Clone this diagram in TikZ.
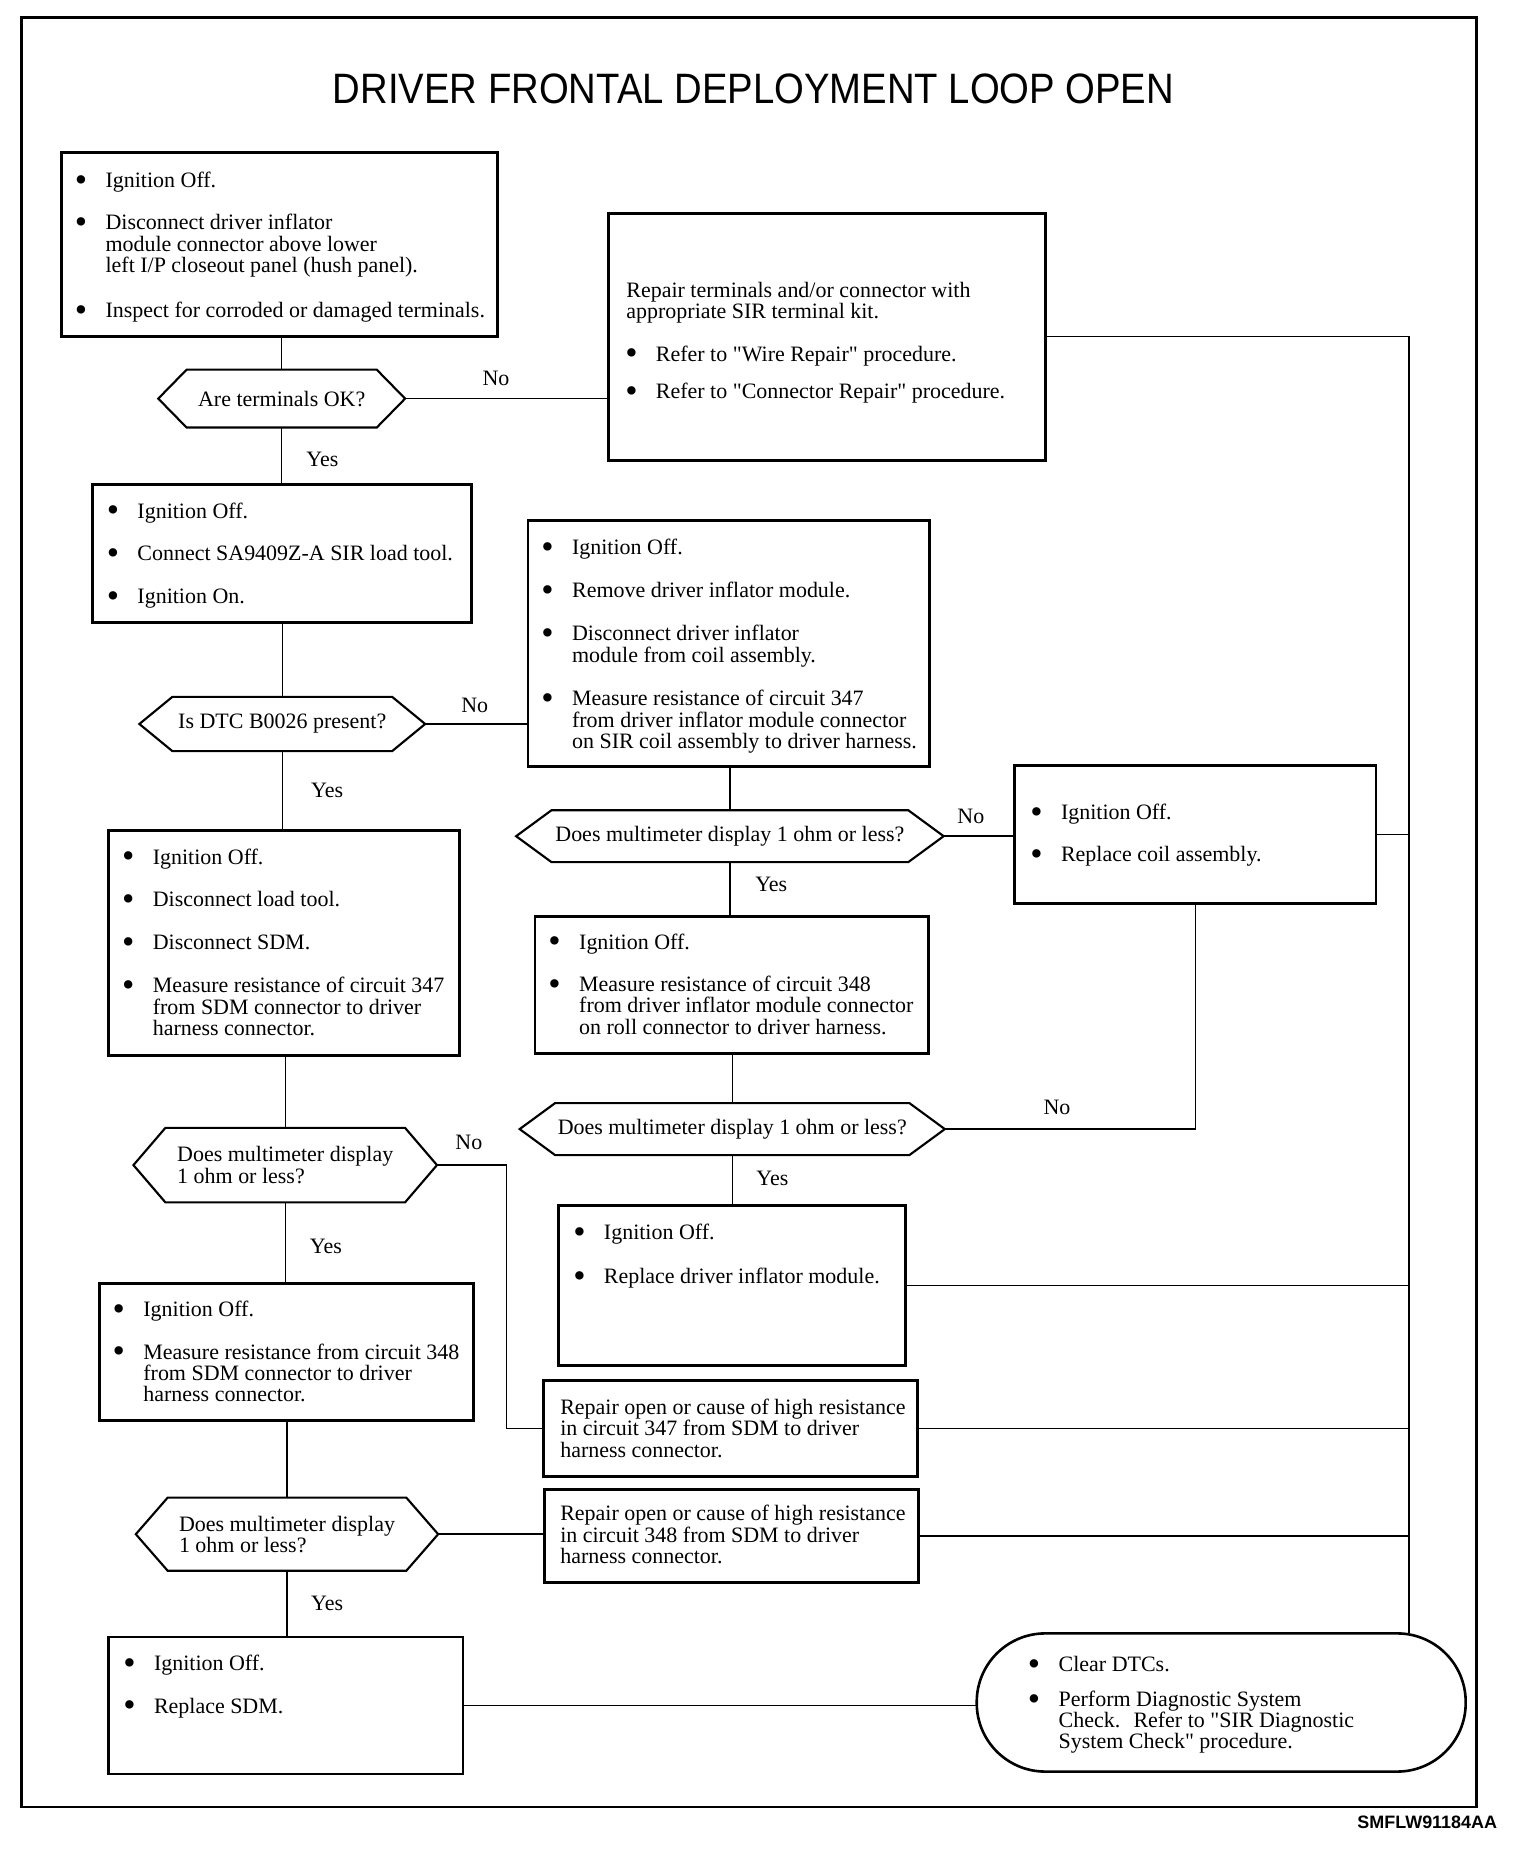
\documentclass[tikz,border=0pt]{standalone}
\usepackage{fontspec}
\setmainfont{Liberation Serif}
\newfontfamily\titlefont{Liberation Sans}
\usetikzlibrary{calc}
\newcommand\fs{\fontsize{9.3}{9}\selectfont}
\newcommand\st{\rule{0pt}{6.3pt}}
\newcommand\bl{\st\makebox[12pt][l]{\hspace*{-1pt}\raisebox{-1.6pt}{\scalebox{1.6}{\textbullet}}}}
\newcommand\ind{\hspace*{12pt}}
\newcommand\q{\textquotedbl}
\tikzset{
  box/.style={draw, line width=1.2pt, anchor=north west, inner sep=0pt, outer sep=0pt},
  txt/.style={font=\fs, align=left, inner sep=0pt, anchor=north west, yshift=-0.6pt},
  lbl/.style={font=\fs, inner sep=0pt},
  conn/.style={line width=0.6pt},
  hexline/.style={line width=0.9pt, line join=miter},
  hexnode/.style={inner sep=0pt, outer sep=0pt, font=\fs, align=left},
  frame/.style={line width=1.2pt},
  term/.style={draw, line width=1.1pt, rounded corners=29pt, anchor=north west, inner sep=0pt, outer sep=0pt}
}
\newcommand\bx[5]{%
  \pgfmathsetmacro\bw{(#4-#2)*0.5}\pgfmathsetmacro\bh{(#5-#3)*0.5}%
  \node[box, minimum width=\bw pt, minimum height=\bh pt] (#1) at (#2,#3) {};}
\newcommand\hx[7]{%
  \pgfmathsetmacro\bw{(#4-#2)*0.5}\pgfmathsetmacro\bh{(#5-#3)*0.5}%
  \node[hexnode, minimum width=\bw pt, minimum height=\bh pt] (#1) at ({(#2+#4)/2},{(#3+#5)/2}) {#7};
  \draw[hexline] (#1.west) -- ($(#1.north west)+(#6,0)$) -- ($(#1.north east)+(-#6,0)$) -- (#1.east)
    -- ($(#1.south east)+(-#6,0)$) -- ($(#1.south west)+(#6,0)$) -- cycle;}
\begin{document}
\begin{tikzpicture}[x=0.5pt,y=-0.5pt]
\useasboundingbox (0,0) rectangle (1287,1568.1);
% frame and title
\draw[frame] (18,15) rectangle (1250,1530);
\node[font=\titlefont\fontsize{18}{20}\selectfont] (title) at (638,75) {\scalebox{0.9}[1]{DRIVER FRONTAL DEPLOYMENT LOOP OPEN}};
\node[font=\titlefont\bfseries\fontsize{7.6}{9}\selectfont, anchor=east, inner sep=0pt] (code) at (1268,1543) {SMFLW91184AA};

% boxes
\bx{A}{52}{129}{421}{285}
\bx{B}{515}{181}{885}{390}
\bx{C}{78}{410}{399}{527}
\bx{D}{447}{441}{787}{649}
\bx{E}{859}{648}{1165}{765}
\bx{F}{92}{703}{389}{894}
\bx{G}{453}{776}{786}{892}
\bx{H}{473}{1021}{767}{1156}
\bx{J}{84}{1087}{401}{1203}
\bx{I}{460}{1169}{777}{1250}
\bx{K}{461}{1261}{778}{1340}
\bx{L}{92}{1386}{392}{1502}
\node[term, minimum width=207pt, minimum height=58.5pt] (T) at (827,1383) {};

% decisions
\hx{H1}{134}{313}{343}{362}{24}{Are terminals OK?}
\hx{H2}{118}{590}{360}{636}{28}{Is DTC B0026 present?}
\hx{H3}{437}{686}{799}{730}{30}{Does multimeter display 1 ohm or less?}
\hx{H4}{113}{955}{370}{1018}{27}{Does multimeter display\\1 ohm or less?}
\hx{H5}{440}{934}{800}{978}{30}{Does multimeter display 1 ohm or less?}
\hx{H6}{115}{1268}{371}{1330}{27}{Does multimeter display\\1 ohm or less?}

% texts
\node[txt] (a1) at (65,144) {\bl Ignition Off.};
\node[txt] (a2) at (65,180) {\bl Disconnect driver inflator\\\ind module connector above lower\\\ind left I/P closeout panel (hush panel).};
\node[txt] (a3) at (65,254) {\bl Inspect for corroded or damaged terminals.};

\node[txt] (b0) at (530,237) {\st Repair terminals and/or connector with\\appropriate SIR terminal kit.};
\node[txt] (b1) at (531,291) {\bl Refer to \q Wire Repair\q{} procedure.};
\node[txt] (b2) at (531,323) {\bl Refer to \q Connector Repair\q{} procedure.};

\node[txt] (c1) at (92,424) {\bl Ignition Off.};
\node[txt] (c2) at (92,460) {\bl Connect SA9409Z-A SIR load tool.};
\node[txt] (c3) at (92,497) {\bl Ignition On.};

\node[txt] (d1) at (460,455) {\bl Ignition Off.};
\node[txt] (d2) at (460,491) {\bl Remove driver inflator module.};
\node[txt] (d3) at (460,528) {\bl Disconnect driver inflator\\\ind module from coil assembly.};
\node[txt] (d4) at (460,583) {\bl Measure resistance of circuit 347\\\ind from driver inflator module connector\\\ind on SIR coil assembly to driver harness.};

\node[txt] (e1) at (874,679) {\bl Ignition Off.};
\node[txt] (e2) at (874,715) {\bl Replace coil assembly.};

\node[txt] (f1) at (105,717) {\bl Ignition Off.};
\node[txt] (f2) at (105,753) {\bl Disconnect load tool.};
\node[txt] (f3) at (105,790) {\bl Disconnect SDM.};
\node[txt] (f4) at (105,826) {\bl Measure resistance of circuit 347\\\ind from SDM connector to driver\\\ind harness connector.};

\node[txt] (g1) at (466,789) {\bl Ignition Off.};
\node[txt] (g2) at (466,825) {\bl Measure resistance of circuit 348\\\ind from driver inflator module connector\\\ind on roll connector to driver harness.};

\node[txt] (h1) at (487,1035) {\bl Ignition Off.};
\node[txt] (h2) at (487,1072) {\bl Replace driver inflator module.};

\node[txt] (j1) at (97,1100) {\bl Ignition Off.};
\node[txt] (j2) at (97,1136) {\bl Measure resistance from circuit 348\\\ind from SDM connector to driver\\\ind harness connector.};

\node[txt] (i1) at (474,1183) {\st Repair open or cause of high resistance\\in circuit 347 from SDM to driver\\harness connector.};
\node[txt] (k1) at (474,1273) {\st Repair open or cause of high resistance\\in circuit 348 from SDM to driver\\harness connector.};

\node[txt] (l1) at (106,1400) {\bl Ignition Off.};
\node[txt] (l2) at (106,1436) {\bl Replace SDM.};

\node[txt] (t1) at (872,1401) {\bl Clear DTCs.};
\node[txt] (t2) at (872,1430) {\bl Perform Diagnostic System\\\ind Check.\hspace{0.6em}Refer to \q SIR Diagnostic\\\ind System Check\q{} procedure.};

% labels
\node[lbl] (n1) at (420,320) {No};
\node[lbl] (y1) at (273,389) {Yes};
\node[lbl] (n2) at (402,597) {No};
\node[lbl] (y2) at (277,669) {Yes};
\node[lbl] (n3) at (822,691) {No};
\node[lbl] (y3) at (653,749) {Yes};
\node[lbl] (n5) at (895,938) {No};
\node[lbl] (y5) at (654,998) {Yes};
\node[lbl] (n4) at (397,967) {No};
\node[lbl] (y4) at (276,1055) {Yes};
\node[lbl] (y6) at (277,1358) {Yes};

% connectors
\coordinate (col) at (1193,285);
\coordinate (k4) at (429,986);
\draw[conn] (H1.north |- A.south) -- (H1.north);
\draw[conn] (H1.east) -- (B.west |- H1.east);
\draw[conn] (H1.south) -- (H1.south |- C.north);
\draw[conn] (B.east |- col) -- (col) -- (col |- T.north);
\draw[conn] (H2.north |- C.south) -- (H2.north);
\draw[conn] (H2.east) -- (D.west |- H2.east);
\draw[conn] (H2.south) -- (H2.south |- F.north);
\draw[conn] (H3.north |- D.south) -- (H3.north);
\draw[conn] (H3.east) -- (E.west |- H3.east);
\draw[conn] (E.east) -- (E.east -| col);
\draw[conn] (E.south) |- (H5.east);
\draw[conn] (H3.south) -- (H3.south |- G.north);
\draw[conn] (H5.north |- G.south) -- (H5.north);
\draw[conn] (H5.south) -- (H5.south |- H.north);
\draw[conn] (H.east) -- (H.east -| col);
\draw[conn] (H4.north |- F.south) -- (H4.north);
\draw[conn] (H4.east) -- (H4.east -| k4) -- (k4 |- I.west) -- (I.west);
\draw[conn] (H4.south) -- (H4.south |- J.north);
\draw[conn] (I.east) -- (I.east -| col);
\draw[conn] (H6.north |- J.south) -- (H6.north);
\draw[conn] (H6.east) -- (K.west |- H6.east);
\draw[conn] (K.east) -- (K.east -| col);
\draw[conn] (H6.south) -- (H6.south |- L.north);
\draw[conn] (L.east) -- (T.west |- L.east);
\end{tikzpicture}
\end{document}
